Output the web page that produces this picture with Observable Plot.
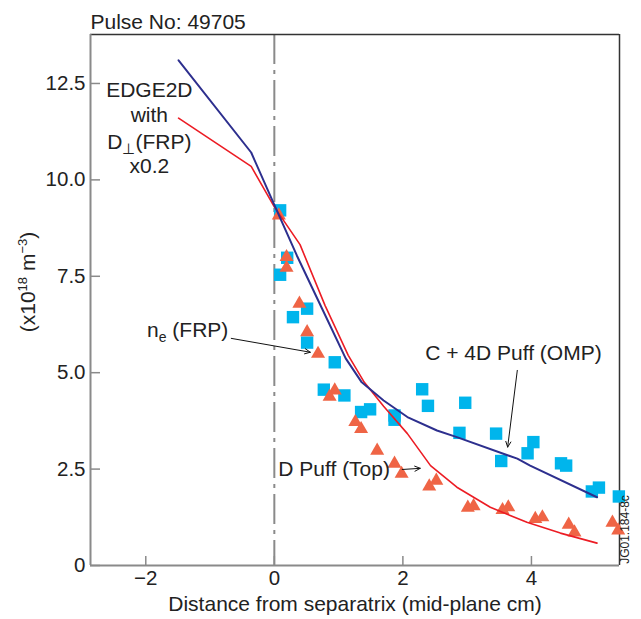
<!DOCTYPE html>
<html><head><meta charset="utf-8">
<script src="https://cdn.jsdelivr.net/npm/d3@7"></script>
<script src="https://cdn.jsdelivr.net/npm/@observablehq/plot@0.6"></script>
<style>
body{margin:0;background:#fff;font-family:"Liberation Sans",Arial,Helvetica,sans-serif}
</style>
</head><body><div id="chart"></div>
<script>
// ---- data ----
const xDomain = [-2.86, 5.37];
const yDomain = [0, 13.77];
const xTicks = [-2, 0, 2, 4];
const yTicks = [0, 2.5, 5, 7.5, 10, 12.5];

// EDGE2D, C + 4D Puff (OMP) (blue line)
const blueLineX = [-1.49, -0.36, 0, 0.35, 0.74, 1.11, 1.36, 1.70, 2.07, 2.53, 2.84, 3.78, 3.98, 5.02];
const blueLineY = [13.1, 10.71, 9.35, 8.04, 6.67, 5.37, 4.75, 4.28, 3.85, 3.50, 3.33, 2.77, 2.59, 1.77];

// EDGE2D, D Puff (Top) (red line)
const redLineX = [-1.49, -0.36, 0, 0.40, 0.79, 1.15, 1.40, 1.70, 2.07, 2.43, 2.84, 3.36, 3.93, 4.45, 5.02];
const redLineY = [11.6, 10.35, 9.3, 8.32, 6.74, 5.45, 4.75, 4.13, 3.42, 2.59, 2.03, 1.51, 1.12, 0.84, 0.58];

// Measured n_e, C + 4D Puff (OMP) (squares)
const squareX = [0.09, 0.20, 0.09, 0.51, 0.29, 0.51, 0.94, 0.77, 1.09, 1.35, 1.49, 1.87, 1.87, 2.30, 2.39, 2.97, 2.88, 3.45, 3.53, 4.03, 3.94, 4.46, 4.54, 4.94, 5.05, 5.36];
const squareY = [9.21, 7.98, 7.54, 6.66, 6.44, 5.78, 5.27, 4.56, 4.41, 3.98, 4.05, 3.89, 3.78, 4.57, 4.14, 4.22, 3.44, 3.42, 2.71, 3.20, 2.91, 2.65, 2.59, 1.92, 2.02, 1.79];

// Measured n_e, D Puff (Top) (triangles)
const triX = [0.07, 0.19, 0.19, 0.39, 0.51, 0.68, 0.94, 0.86, 1.26, 1.35, 1.60, 1.87, 1.98, 2.41, 2.52, 3.01, 3.10, 3.55, 3.64, 4.06, 4.17, 4.58, 4.67, 5.26, 5.35];
const triY = [9.08, 8.00, 7.72, 6.79, 6.05, 5.49, 4.54, 4.38, 3.72, 3.54, 2.98, 2.64, 2.38, 2.05, 2.20, 1.50, 1.54, 1.44, 1.51, 1.21, 1.25, 1.06, 0.86, 1.11, 0.91];

// annotations
const edgeLines = ["EDGE2D", "with", "D_perp(FRP)", "x0.2"];
const edgeLabelX = -1.945;
const edgeLabelY = [12.32, 11.67, 10.97, 10.35];
const neLabel = {t: "n_e (FRP)", x: -0.716, y: 6.10};
const ompLabel = {t: "C + 4D Puff (OMP)", x: 3.72, y: 5.50};
const topLabel = {t: "D Puff (Top)", x: 0.062, y: 2.49};
const arrowX1 = [-0.67, 3.78, 1.99];
const arrowY1 = [5.89, 5.06, 2.49];
const arrowX2 = [0.56, 3.63, 2.27];
const arrowY2 = [5.53, 3.07, 2.52];

// ---- tables ----
const blueLine = blueLineX.map((x, i) => ({x, y: blueLineY[i]}));
const redLine = redLineX.map((x, i) => ({x, y: redLineY[i]}));
const squares = squareX.map((x, i) => ({x, y: squareY[i]}));
const tris = triX.map((x, i) => ({x, y: triY[i]}));
const edge = edgeLines.map((t, i) => ({t, x: edgeLabelX, y: edgeLabelY[i]}));
const arrows = arrowX1.map((x1, i) => ({x1, y1: arrowY1[i], x2: arrowX2[i], y2: arrowY2[i]}));

const W = 641, H = 619, mt = 34, mr = 22, mb = 54, ml = 90;
const fw = W - ml - mr, fh = H - mt - mb;
const gray = "#8a8a8a";
const FS = 21;

const plot = Plot.plot({
  width: W, height: H,
  marginTop: mt, marginRight: mr, marginBottom: mb, marginLeft: ml,
  style: {fontFamily: '"Liberation Sans", Arial, Helvetica, sans-serif', fontSize: "21px", color: "#222", background: "#fff", overflow: "visible"},
  x: {domain: xDomain},
  y: {domain: yDomain},
  marks: [
    // separatrix
    Plot.ruleX([0], {stroke: gray, strokeWidth: 2, strokeDasharray: "30,6,4,6"}),
    // axis ticks (inward)
    Plot.tickY(yTicks, {y: d => d, stroke: gray, strokeWidth: 1.5, insetRight: fw - 10}),
    Plot.tickX(xTicks, {x: d => d, stroke: gray, strokeWidth: 1.5, insetTop: fh - 9}),
    Plot.axisY({ticks: yTicks, tickSize: 0, tickPadding: 5, label: null, tickFormat: d => d === 0 ? "0" : d.toFixed(1), fill: "#222", fontSize: 20.5}),
    Plot.axisX({ticks: xTicks, tickSize: 0, tickPadding: 5, label: null, fill: "#222", fontSize: 20.5}),
    // frame
    Plot.ruleX([xDomain[1]], {stroke: "#333", strokeWidth: 1.5}),
    Plot.ruleY([yDomain[1]], {stroke: "#333", strokeWidth: 1.5}),
    Plot.ruleX([xDomain[0]], {stroke: gray, strokeWidth: 2}),
    Plot.ruleY([0], {stroke: gray, strokeWidth: 2}),
    // data
    Plot.dot(squares, {x: "x", y: "y", symbol: "square", r: 7, fill: "#00b5ec"}),
    Plot.dot(tris, {x: "x", y: "y", symbol: "triangle", r: 5.2, fill: "#ef6445"}),
    Plot.line(redLine, {x: "x", y: "y", stroke: "#ec1c24", strokeWidth: 1.6}),
    Plot.line(blueLine, {x: "x", y: "y", stroke: "#2d2f8e", strokeWidth: 2}),
    // annotations
    Plot.arrow(arrows, {x1: "x1", y1: "y1", x2: "x2", y2: "y2", stroke: "#111", strokeWidth: 1, headLength: 9, headAngle: 50}),
    Plot.text(edge, {x: "x", y: "y", text: "t", textAnchor: "middle", fill: "#222", fontSize: FS}),
    Plot.text([neLabel], {x: "x", y: "y", text: "t", textAnchor: "end", fill: "#222", fontSize: FS}),
    Plot.text([ompLabel], {x: "x", y: "y", text: "t", textAnchor: "middle", fill: "#222", fontSize: FS}),
    Plot.text([topLabel], {x: "x", y: "y", text: "t", textAnchor: "start", fill: "#222", fontSize: FS}),
    Plot.text(["Pulse No: 49705"], {frameAnchor: "top-left", textAnchor: "start", lineAnchor: "bottom", dy: -6, fill: "#222", fontSize: FS}),
    Plot.text(["Distance from separatrix (mid-plane cm)"], {frameAnchor: "bottom", lineAnchor: "middle", dy: 39, fill: "#222", fontSize: FS}),
    Plot.text(["Y_LABEL"], {frameAnchor: "left", rotate: -90, dx: -62, dy: -18, textAnchor: "middle", fill: "#222", fontSize: FS}),
    Plot.text(["JG01.184-8c"], {frameAnchor: "bottom-right", rotate: -90, dx: 9, dy: -36, textAnchor: "middle", fill: "#222", fontSize: 12})
  ]
});

// rich text (sub/superscripts)
const rich = {
  "n_e (FRP)": 'n<tspan dy="5" font-size="14">e</tspan><tspan dy="-5"> (FRP)</tspan>',
  "D_perp(FRP)": 'D<tspan dy="5" font-size="15">⊥</tspan><tspan dy="-5">(FRP)</tspan>',
  "Y_LABEL": '(x10<tspan dy="-8" font-size="13">18</tspan><tspan dy="8"> m</tspan><tspan dy="-8" font-size="13">−3</tspan><tspan dy="8">)</tspan>'
};
plot.querySelectorAll("text").forEach(t => {
  const k = t.textContent;
  if (rich[k]) t.innerHTML = rich[k];
});
document.getElementById("chart").appendChild(plot);
</script>
</body></html>
